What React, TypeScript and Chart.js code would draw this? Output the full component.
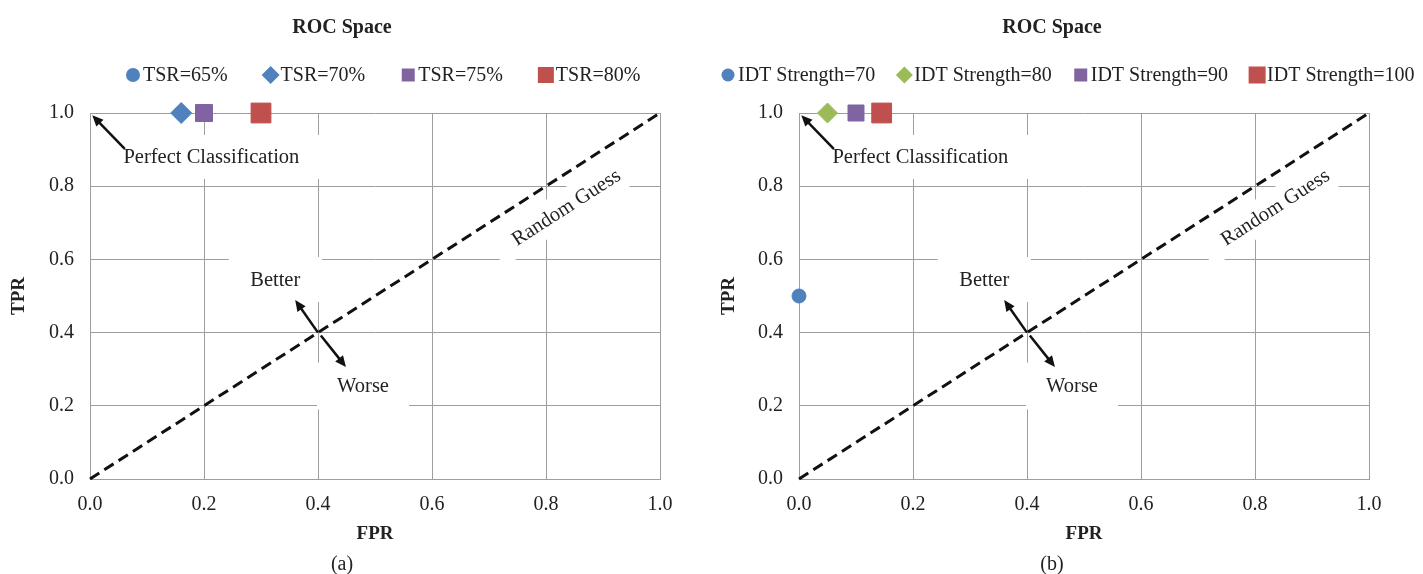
import React, { useEffect, useRef } from 'react';
import { Chart, registerables } from 'chart.js';

Chart.register(...registerables);

// ---------- data ----------
const tsrLabels = ['TSR=65%', 'TSR=70%', 'TSR=75%', 'TSR=80%'];
const tsrFPR = [0.16, 0.16, 0.2, 0.3];
const tsrTPR = [1.0, 1.0, 1.0, 1.0];

const idtLabels = ['IDT Strength=70', 'IDT Strength=80', 'IDT Strength=90', 'IDT Strength=100'];
const idtFPR = [0.0, 0.05, 0.1, 0.145];
const idtTPR = [0.5, 1.0, 1.0, 1.0];

const guessFPR = [0, 1];
const guessTPR = [0, 1];

const axisTicks = [0, 0.2, 0.4, 0.6, 0.8, 1.0];
const tickLabels = ['0.0', '0.2', '0.4', '0.6', '0.8', '1.0'];

const chartTitle = 'ROC Space';
const xTitle = 'FPR';
const yTitle = 'TPR';
const captions = ['(a)', '(b)'];

const annotationTexts = ['Perfect Classification', 'Better', 'Worse', 'Random Guess'];

// ---------- styles ----------
const FONT = "'Liberation Serif', 'Times New Roman', serif";
const TEXT = '#222222';
const GRID = '#9e9e9e';
const BLUE = '#4F81BD';
const GREEN = '#9BBB59';
const PURPLE = '#8064A2';
const RED = '#C0504D';
const pointStyles = ['circle', 'rectRot', 'rect', 'rect'];

// annotation placement (data-space anchors, pixel box sizes)
const annotationLayout = [
  { x: 0.213, y: 0.88, w: 220, h: 44, rotate: false },
  { x: 0.325, y: 0.545, w: 93, h: 45, rotate: false },
  { x: 0.479, y: 0.254, w: 92, h: 47, rotate: false },
  { x: 0.835, y: 0.743, w: 168, h: 34, rotate: true },
];
const arrowLayout = [
  { from: [0.061, 0.902], to: [0.004, 0.994] },
  { from: [0.4, 0.4], to: [0.36, 0.489] },
  { from: [0.405, 0.392], to: [0.449, 0.306] },
];

function drawMarker(ctx, style, x, y, s, color) {
  ctx.save();
  ctx.fillStyle = color;
  ctx.beginPath();
  if (style === 'circle') ctx.arc(x, y, s, 0, Math.PI * 2);
  else if (style === 'rectRot') {
    ctx.moveTo(x, y - s);
    ctx.lineTo(x + s, y);
    ctx.lineTo(x, y + s);
    ctx.lineTo(x - s, y);
    ctx.closePath();
  } else ctx.rect(x - s, y - s, 2 * s, 2 * s);
  ctx.fill();
  ctx.restore();
}

function drawArrow(ctx, x1, y1, x2, y2) {
  const a = Math.atan2(y2 - y1, x2 - x1);
  const head = 11;
  const hw = 5;
  const c = Math.cos(a);
  const s = Math.sin(a);
  ctx.save();
  ctx.strokeStyle = '#111';
  ctx.fillStyle = '#111';
  ctx.lineWidth = 2.5;
  ctx.beginPath();
  ctx.moveTo(x1, y1);
  ctx.lineTo(x2 - c * head * 0.8, y2 - s * head * 0.8);
  ctx.stroke();
  ctx.beginPath();
  ctx.moveTo(x2, y2);
  ctx.lineTo(x2 - head * c + hw * s, y2 - head * s - hw * c);
  ctx.lineTo(x2 - head * c - hw * s, y2 - head * s + hw * c);
  ctx.closePath();
  ctx.fill();
  ctx.restore();
}

const annotationPlugin = {
  id: 'rocAnnotations',
  beforeDatasetsDraw(chart) {
    const ctx = chart.ctx;
    const xs = chart.scales.x;
    const ys = chart.scales.y;
    const ang = Math.atan2(ys.getPixelForValue(1) - ys.getPixelForValue(0), xs.getPixelForValue(1) - xs.getPixelForValue(0));
    annotationLayout.forEach((a, i) => {
      const px = xs.getPixelForValue(a.x);
      const py = ys.getPixelForValue(a.y);
      ctx.save();
      ctx.translate(px, py);
      if (a.rotate) ctx.rotate(ang);
      ctx.fillStyle = '#ffffff';
      ctx.fillRect(-a.w / 2, -a.h / 2, a.w, a.h);
      ctx.fillStyle = TEXT;
      ctx.font = `20.5px ${FONT}`;
      ctx.textAlign = 'center';
      ctx.textBaseline = 'middle';
      ctx.fillText(annotationTexts[i], 0, 1);
      ctx.restore();
    });
    arrowLayout.forEach((ar) => {
      drawArrow(
        ctx,
        xs.getPixelForValue(ar.from[0]),
        ys.getPixelForValue(ar.from[1]),
        xs.getPixelForValue(ar.to[0]),
        ys.getPixelForValue(ar.to[1])
      );
    });
  },
};

function makeLegendPlugin(startX, gap, sizes) {
  return {
    id: 'customLegend',
    afterDraw(chart) {
      const ctx = chart.ctx;
      const y = 75;
      let x = startX;
      ctx.save();
      ctx.font = `20px ${FONT}`;
      ctx.textBaseline = 'middle';
      ctx.textAlign = 'left';
      chart.data.datasets.forEach((ds, i) => {
        if (ds.isGuess) return;
        drawMarker(ctx, ds.pointStyle, x, y, sizes[i], ds.backgroundColor);
        const tx = x + 10;
        ctx.fillStyle = TEXT;
        ctx.fillText(ds.label, tx, y + 1);
        const w = ctx.measureText(ds.label).width;
        x = tx + w + gap;
      });
      ctx.restore();
    },
  };
}

function buildConfig(p) {
  const datasets = p.labels.map((label, i) => ({
    label,
    data: [{ x: p.fpr[i], y: p.tpr[i] }],
    pointStyle: pointStyles[i],
    backgroundColor: p.colors[i],
    borderColor: p.colors[i],
    pointRadius: p.radii[i],
    pointBorderWidth: 1,
    clip: false,
    order: 4 - i,
  }));
  datasets.push({
    label: 'Random Guess',
    isGuess: true,
    type: 'line',
    data: guessFPR.map((x, i) => ({ x, y: guessTPR[i] })),
    borderColor: '#111',
    borderWidth: 3,
    borderDash: [11, 6],
    pointRadius: 0,
    fill: false,
    clip: false,
    order: 10,
  });
  const tickFont = { family: FONT, size: 20 };
  const titleFont = { family: FONT, size: 19, weight: 'bold' };
  return {
    type: 'scatter',
    data: { datasets },
    options: {
      responsive: false,
      animation: false,
      devicePixelRatio: 1,
      layout: { padding: { left: p.padLeft, right: p.padRight, top: 0, bottom: 0 } },
      plugins: {
        legend: { display: false },
        tooltip: { enabled: false },
        title: {
          display: true,
          text: chartTitle,
          color: TEXT,
          font: { family: FONT, size: 20, weight: 'bold' },
          padding: { top: 16, bottom: 73 },
        },
        subtitle: {
          display: true,
          position: 'bottom',
          text: p.caption,
          color: TEXT,
          font: { family: FONT, size: 20 },
          padding: { top: 8, bottom: -3 },
        },
      },
      scales: {
        x: {
          type: 'linear',
          min: 0,
          max: 1,
          afterBuildTicks: (s) => {
            s.ticks = axisTicks.map((v) => ({ value: v }));
          },
          afterFit: (s) => {
            s.height = 66;
          },
          ticks: {
            callback: (v, i) => tickLabels[i],
            color: TEXT,
            font: tickFont,
            padding: 14,
            maxRotation: 0,
            autoSkip: false,
          },
          grid: { color: GRID, lineWidth: 1, drawTicks: false },
          border: { color: GRID, width: 1 },
          title: { display: true, text: xTitle, color: TEXT, font: titleFont, padding: { top: 0, bottom: 0 } },
        },
        y: {
          type: 'linear',
          min: 0,
          max: 1,
          afterBuildTicks: (s) => {
            s.ticks = axisTicks.map((v) => ({ value: v }));
          },
          afterFit: (s) => {
            s.width = 90 - p.padLeft;
          },
          ticks: {
            callback: (v, i) => tickLabels[i],
            color: TEXT,
            font: tickFont,
            padding: 16,
            autoSkip: false,
          },
          grid: { color: GRID, lineWidth: 1, drawTicks: false },
          border: { color: GRID, width: 1 },
          title: { display: true, text: yTitle, color: TEXT, font: titleFont, padding: { top: p.yTitlePad, bottom: 0 } },
        },
      },
    },
    plugins: [annotationPlugin, makeLegendPlugin(p.legendX, p.legendGap, p.legendSizes)],
  };
}

const panels = [
  {
    left: 0,
    width: 705,
    padLeft: 24,
    padRight: 45,
    yTitlePad: -16,
    caption: captions[0],
    labels: tsrLabels,
    fpr: tsrFPR,
    tpr: tsrTPR,
    colors: [BLUE, BLUE, PURPLE, RED],
    radii: [7, 10.5, 12, 14],
    legendX: 133,
    legendGap: 43,
    legendSizes: [7, 9, 6.5, 8],
  },
  {
    left: 709,
    width: 714,
    padLeft: 26,
    padRight: 54,
    yTitlePad: -17,
    caption: captions[1],
    labels: idtLabels,
    fpr: idtFPR,
    tpr: idtTPR,
    colors: [BLUE, GREEN, PURPLE, RED],
    radii: [7, 10, 11.3, 14],
    legendX: 19,
    legendGap: 29,
    legendSizes: [6.5, 8.5, 6.5, 8.5],
  },
];

function RocPanel({ p }) {
  const ref = useRef(null);
  useEffect(() => {
    if (!ref.current) return;
    const chart = new Chart(ref.current, buildConfig(p));
    return () => chart.destroy();
  }, [p]);
  return (
    <canvas
      ref={ref}
      width={p.width}
      height={574}
      style={{ position: 'absolute', left: p.left, top: 0, width: p.width, height: 574, display: 'block' }}
    />
  );
}

export default function App() {
  return (
    <div style={{ position: 'fixed', left: 0, top: 0, width: 1423, height: 574, background: '#ffffff' }}>
      {panels.map((p, i) => (
        <RocPanel key={i} p={p} />
      ))}
    </div>
  );
}
